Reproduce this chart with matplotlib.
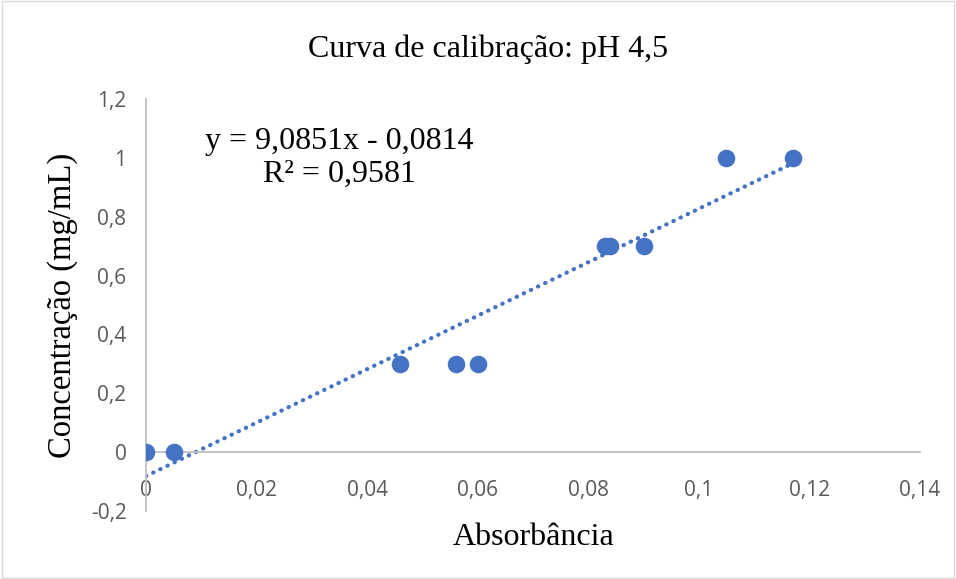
import matplotlib
matplotlib.use("Agg")
import matplotlib.pyplot as plt
import numpy as np
from matplotlib.patches import Rectangle

absorbancia = [0.0, 0.005, 0.046, 0.056, 0.060, 0.083, 0.084, 0.090, 0.105, 0.117]
concentracao = [0.0, 0.0, 0.3, 0.3, 0.3, 0.7, 0.7, 0.7, 1.0, 1.0]
slope = 9.0851
intercept = -0.0814
x_ticks = [0, 0.02, 0.04, 0.06, 0.08, 0.10, 0.12, 0.14]
x_tick_labels = ["0", "0,02", "0,04", "0,06", "0,08", "0,1", "0,12", "0,14"]
y_ticks = [-0.2, 0, 0.2, 0.4, 0.6, 0.8, 1.0, 1.2]
y_tick_labels = ["-0,2", "0", "0,2", "0,4", "0,6", "0,8", "1", "1,2"]
title = "Curva de calibração: pH 4,5"
xlabel = "Absorbância"
ylabel = "Concentração (mg/mL)"
eq_text = "y = 9,0851x - 0,0814\nR² = 0,9581"

blue = "#4472C4"
axis_gray = "#BFBFBF"
tick_gray = "#595959"
serif = ["Liberation Serif", "DejaVu Serif"]
sans = ["Open Sans", "DejaVu Sans"]

fig = plt.figure(figsize=(9.56, 5.79), dpi=100)
fig.patches.append(Rectangle((0.002, 0.002), 0.996, 0.996, transform=fig.transFigure,
                             fill=False, edgecolor="#D9D9D9", linewidth=1.0))
ax = fig.add_axes([0.1527, 0.1174, 0.8096, 0.7116])
ax.set_xlim(0, 0.14)
ax.set_ylim(-0.2, 1.2)

for s in ["top", "right"]:
    ax.spines[s].set_visible(False)
ax.spines["left"].set_color(axis_gray)
ax.spines["bottom"].set_color(axis_gray)
ax.spines["left"].set_linewidth(1.3)
ax.spines["bottom"].set_linewidth(1.3)
ax.spines["bottom"].set_position(("data", 0))

xt = np.array([0, max(absorbancia)])
ax.plot(xt, slope * xt + intercept, linestyle=(0, (0.1, 1.8)), color=blue, linewidth=3.0,
        dash_capstyle="round", zorder=2)
ax.scatter(absorbancia, concentracao, s=160, color=blue, zorder=3, linewidths=0)

ax.set_xticks(x_ticks)
ax.set_xticklabels(x_tick_labels, fontfamily=sans, fontsize=15, color=tick_gray)
ax.set_yticks(y_ticks)
ax.set_yticklabels(y_tick_labels, fontfamily=sans, fontsize=15, color=tick_gray)
ax.tick_params(axis="x", length=0, pad=20)
ax.tick_params(axis="y", length=0, pad=14)

fig.text(0.511, 0.915, title, ha="center", va="center", fontfamily=serif, fontsize=23, color="black")
fig.text(0.558, 0.072, xlabel, ha="center", va="center", fontfamily=serif, fontsize=23, color="black")
fig.text(0.065, 0.473, ylabel, ha="center", va="center", rotation=90, fontfamily=serif,
         fontsize=23.5, color="black")
ax.text(0.035, 1.0, eq_text, ha="center", va="center", fontfamily=serif, fontsize=23,
        color="black", linespacing=1.2, transform=ax.transData)

fig.savefig("out.png", dpi=100)
